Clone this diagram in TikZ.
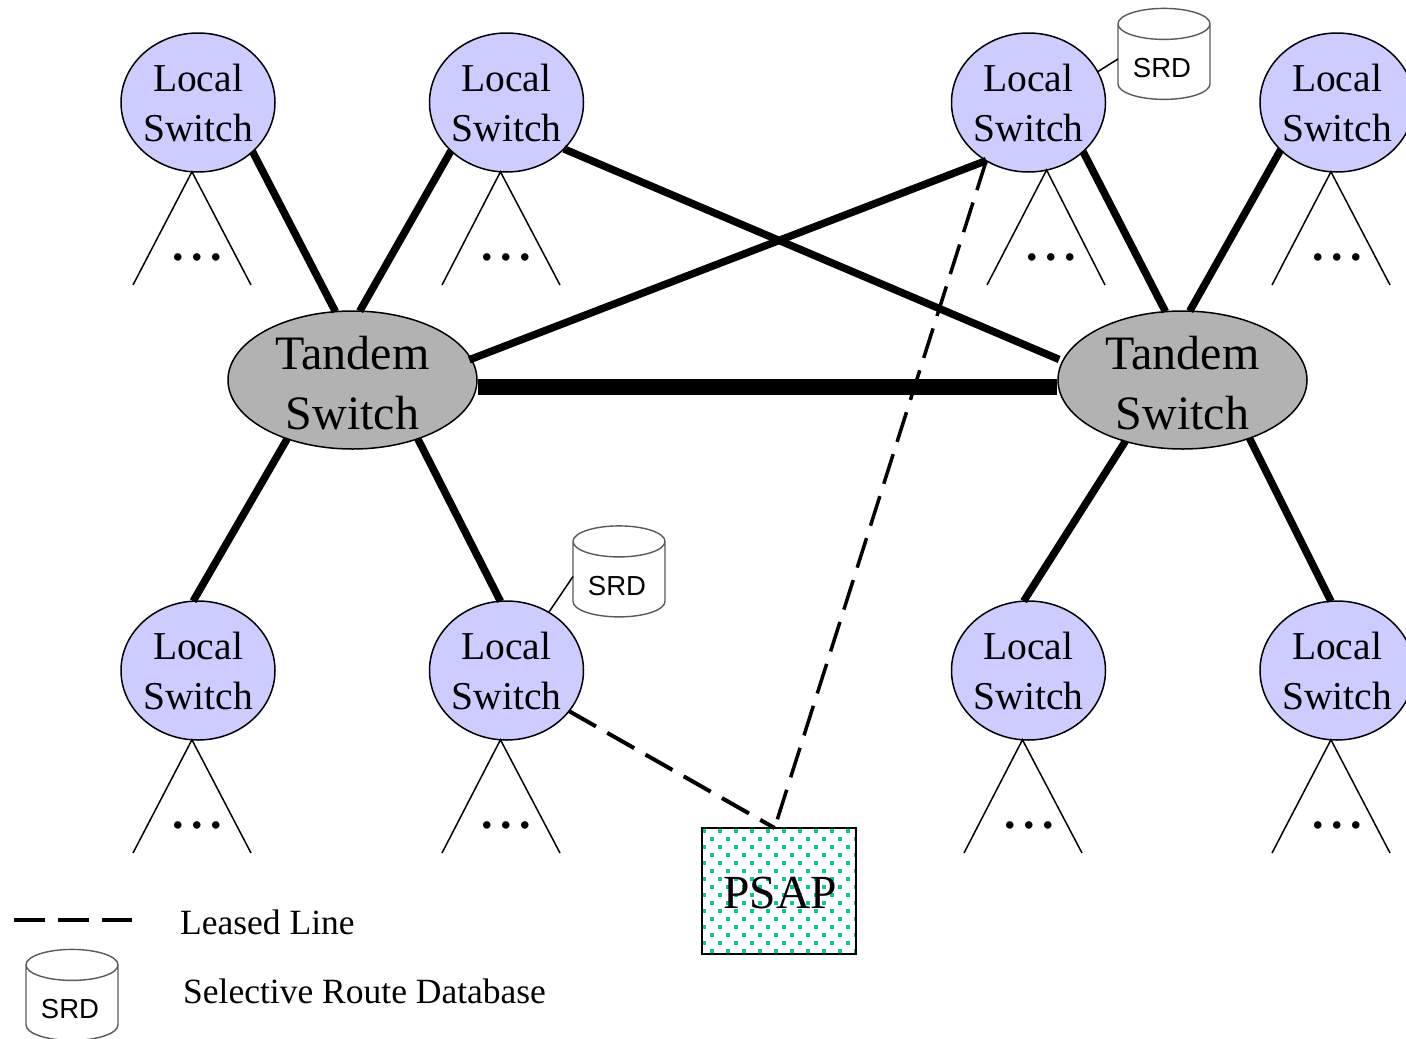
\documentclass[tikz,border=0pt]{standalone}
\usepackage{fontspec}
\setmainfont{Liberation Serif}
\newfontfamily\srdfont{Liberation Sans}
\usetikzlibrary{shapes.geometric}
\definecolor{localfill}{RGB}{204,204,255}
\definecolor{tandemfill}{RGB}{178,178,178}
\definecolor{dotteal}{RGB}{0,204,153}
\definecolor{cylline}{RGB}{90,90,90}
\newcommand{\srdlabel}{\rule{0pt}{32pt}SRD\kern4pt}
\newcommand{\tandemlabel}{\rule{0pt}{39pt}Tandem\\Switch}
\tikzset{
  x=1pt,y=-1pt,
  localsw/.style={ellipse,draw=black,line width=1.5pt,fill=localfill,minimum width=154pt,minimum height=139pt,inner sep=-10pt,outer sep=0pt,align=center,font=\fontsize{39.5}{50}\selectfont},
  tandemsw/.style={ellipse,draw=black,line width=1.5pt,fill=tandemfill,minimum width=249pt,minimum height=138pt,inner sep=-20pt,outer sep=0pt,align=center,font=\fontsize{48}{60}\selectfont},
  srdcyl/.style={cylinder,shape border rotate=90,aspect=0.5,draw=cylline,line width=1.4pt,fill=white,minimum width=92pt,minimum height=91pt,inner sep=0pt,outer sep=0pt,font=\srdfont\fontsize{27.5}{30}\selectfont},
  trunk/.style={line width=7.5pt,black},
  mainline/.style={line width=16pt,black},
  leased/.style={line width=4pt,black,dash pattern=on 31pt off 13pt},
  tailline/.style={line width=1.5pt,black},
  subtree/.style={line width=1.5pt,black},
  dots/.style={inner sep=0pt,font=\bfseries\fontsize{46}{46}\selectfont},
  legendtext/.style={anchor=west,inner sep=0pt,font=\fontsize{35.5}{40}\selectfont},
}
\begin{document}
\begin{tikzpicture}
\useasboundingbox (0,0) rectangle (1406,1039);
% switches
\foreach \n/\px/\py in {L1/198/102.5,L2/506.5/102.5,L3/1028.5/102.5,L4/1337/102.5,L5/198/670.5,L6/506.5/670.5,L7/1028.5/670.5,L8/1337/670.5}
  \node[localsw,text depth=0pt] (\n) at (\px,\py) {Local\\Switch};
\node[tandemsw] (T1) at (352.5,380) {\tandemlabel};
\node[tandemsw] (T2) at (1182.5,380) {\tandemlabel};
% databases
\node[srdcyl] (D1) at (1164,62) {\srdlabel};
\node[srdcyl] (D2) at (619,579.5) {\srdlabel};
\node[srdcyl] (D3) at (72,1003) {\srdlabel};
% PSAP
\node[draw=none,minimum width=154pt,minimum height=126pt,inner sep=0pt,outer sep=0pt] (P) at (779,891) {};
\begin{scope}
\clip (702,828) rectangle (856,954);
\foreach \i in {-1,...,10} \foreach \j in {0,...,15} {
  \fill[dotteal] ({704+16*\i-2},{831+16*\j-2}) ++(16,0) rectangle ++(4,4);
  \fill[dotteal] ({696+16*\i-2},{839+16*\j-2}) ++(16,0) rectangle ++(4,4);
}
\end{scope}
\draw[black,line width=2pt] (P.south west) rectangle (P.north east);
\node[inner sep=0pt,font=\fontsize{47.5}{50}\selectfont] at (780,893) {PSAP};
% subtrees
\foreach \n/\a/\bx/\by/\cx/\dx in {
  L1/-95/133/285/251/197, L2/-95/442/285/560/506,
  L3/-75/987/285/1105/1051, L4/-95/1272/285/1390/1337,
  L5/-95/133/853/251/197, L6/-95/442/853/560/506,
  L7/-95/964/853/1082/1029, L8/-95/1272/853/1390/1337} {
  \coordinate (bl) at (\bx,\by);
  \coordinate (br) at (\cx,\by);
  \draw[subtree] (bl) -- (\n.\a) -- (br);
  \node[dots,anchor=base] at (\dx,{\by-25}) {.\kern7.5pt.\kern7.5pt.};
}
% trunks
\draw[trunk] (L1.-42) -- (T1.104);
\draw[trunk] (L2.221) -- (T1.84);
\draw[trunk,shorten >=4pt] (L2.-39) -- (T2.171);
\draw[trunk,shorten >=-2pt] (L3.234) -- (T1.10);
\draw[trunk] (L3.-42) -- (T2.104);
\draw[trunk] (L4.220) -- (T2.84);
\draw[trunk] (T1.222) -- (L5.94);
\draw[trunk] (T1.-42) -- (L6.95);
\draw[trunk] (T2.227.5) -- (L7.94);
\draw[trunk] (T2.-41.4) -- (L8.95);
\draw[mainline,shorten >=1.5pt,shorten <=1.5pt] (T1.-3.6) -- (T2.183.6);
% leased lines
\draw[leased,line width=3.5pt] (L3.234) -- (P.94);
\draw[leased] (L6.-33.7) -- (P.94);
% database ties
\draw[tailline] (L3.24.5) -- ([yshift=3pt]D1.west);
\draw[tailline] (L6.54.5) -- ([yshift=3pt]D2.west);
% legend
\coordinate (la) at (14,920);
\coordinate (lb) at (132,920);
\draw[leased] (la) -- (lb);
\node[legendtext] (lt1) at (180,922) {Leased Line};
\node[legendtext] (lt2) at (183,991) {Selective Route Database};
\end{tikzpicture}
\end{document}
